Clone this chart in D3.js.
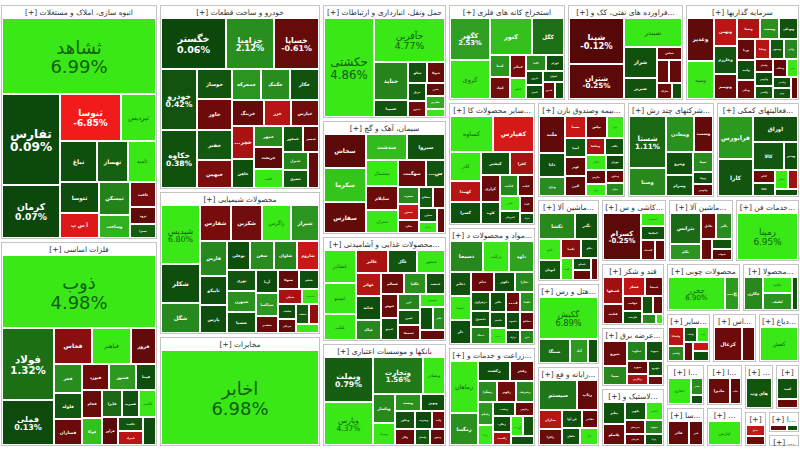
<!DOCTYPE html>
<html>
<head>
<meta charset="utf-8">
<script src="https://cdn.jsdelivr.net/npm/d3@7"></script>
<style>
  body { margin: 0; background: #fff; }
  svg { display: block; font-family: "DejaVu Sans", sans-serif; }
</style>
</head>
<body>
<svg id="map" width="800" height="450"></svg>
<script>
// sector (industry) groups of the market map
const sectorNames = [
  "انبوه سازی، املاک و مستغلات",
  "فلزات اساسی",
  "خودرو و ساخت قطعات",
  "محصولات شیمیایی",
  "مخابرات",
  "حمل ونقل، انبارداری و ارتباطات",
  "سیمان، آهک و گچ",
  "محصولات غذایی و آشامیدنی به جز قند و شکر",
  "بانکها و موسسات اعتباری",
  "استخراج کانه های فلزی",
  "فراورده های نفتی، کک و سوخت هسته ای",
  "سرمایه گذاریها",
  "سایر محصولات کانی غیرفلزی",
  "مواد و محصولات دارویی",
  "زراعت و خدمات وابسته",
  "بیمه وصندوق بازنشستگی به جز تامین اجتماعی",
  "شرکتهای چند رشته ای صنعتی",
  "فعالیتهای کمکی به نهادهای مالی واسط",
  "ماشین آلات و تجهیزات",
  "هتل و رستوران",
  "رایانه و فعالیتهای وابسته به آن",
  "کاشی و سرامیک",
  "ماشین آلات و دستگاههای برقی",
  "خدمات فنی و مهندسی",
  "قند و شکر",
  "عرضه برق، گاز، بخار و آب گرم",
  "لاستیک و پلاستیک",
  "محصولات چوبی",
  "محصولات کاغذی",
  "سایر واسطه گریهای مالی",
  "استخراج ذغال سنگ",
  "دباغی، پرداخت چرم و ساخت انواع پاپوش",
  "استخراج نفت گاز و خدمات جنبی جز اکتشاف",
  "ساخت محصولات فلزی",
  "انتشار، چاپ و تکثیر",
  "ساخت دستگاهها و وسایل ارتباطی",
  "اطلاعات و ارتباطات",
  "فعالیت های هنری، سرگرمی و خلاقانه",
  "منسوجات",
  "استخراج سایر معادن",
  "ساخت ابزار پزشکی، اپتیکی و اندازه گیری"
];

// symbols per sector
const stockNames = [
  ["ثشاهد","تفارس","ثنوسا","کرمان","ثباغ","ثپردیس","ثهساز","ثامید","ثتوسا","آ س پ","ثمسکن","وساخت","ثاخت","ثرود","ثعمرا"],
  ["ذوب","فولاد","فملی","فخاس","فباهنر","فروز","فجر","فلوله","فسازان","فنورد","فسوز","فپنتا","فجام","فوکا","فسرب","فگستر","فرآور","فکمند","فمراد","فنوال","فایرا"],
  ["خگستر","خزامیا","خساپا","خودرو","خکاوه","خوساز","خاور","خفنر","خبهمن","خمحرکه","خکمک","خکار","خرینگ","خزر","خپارس","خچرخش","خاهن","خمهر","خریخت","خلنت","خمحور","خنصیر","خدیزل","خشرق","ختور"],
  ["شپدیس","شکلر","شگل","شفارس","شکربن","زاگرس","شیراز","فارس","شاروم","نوری","شبهرن","شسپا","تاپیکو","آریا","شپاکسا","بوعلی","شفن","پارس","شاوان","شغدیر","شتوکا","شجم","شپلی","شصدف","شلعاب","شرنگی","شنفت","شخارک","شاملا"],
  ["اخابر"],
  ["حکشتی","حآفرین","حتاید","حسینا","حبالو","حتوکا","حریل","حپترو","حخزر","حفارس","حپارسا"],
  ["سخاش","سکرما","سفارس","سدشت","سبزوا","سشمال","سایلام","ستران","سهگمت","سصوفی","سغرب","سخزر","سکرد","سفانو","سباقر","سمازن","سیدکو","سنیر"],
  ["غشاذر","غمینو","غکب","غالبر","غگل","غبشهر","غهاذر","غدانه","غپاک","غسالم","غگلپا","غدشت","غنوش","غپینو","غزر","غچین","غشصفا","غبهنوش","غمارگ","غاذر","غگرجی"],
  ["وبملت","وپارس","وتجارت","وبصادر","وپاسار","وسینا","وپست","ونوین","وخاور","وکار","وسرمد","وآیند","وانصار","وشهر"],
  ["کگهر","کروی","کنور","کگل","کدما","کچاد","کمنگنز","کبافق","کاما","کهرام","کپرور","کمس","کجهان","کشرق","کخاک"],
  ["شپنا","شتران","شبندر","شراز","شبریز","شپاس","شدوص","شرانل","شاراک","شگویا"],
  ["وغدیر","وسپه","وبهمن","وخارزم","وتوسم","وسنا","وصنعت","وبوعلی","ورنا","وامید","وملی","وساپا","وسپهر","واتی","ولتجار","وآتوس","وگستر","وسکاب","ونیرو","وکغدیر","وثنو","ونیکی"],
  ["کساوه","کفپارس","کاذر","کهمدا","کسرا","کپشیر","کفرا","کرازی","کلوند","کثابت","کباده","کخزر","کمرجان","کایتا","کتوکا"],
  ["دسبحا","برکت","داوه","دجابر","دسینا","دلر","ددام","دکوثر","دفارا","دزهراوی","دکپسول","دتماد","دالبر","دشیمی","دلقما","دکیمی","دپارس","داسوه","دسانکو","درازک","دابور"],
  ["زماهان","زمگسا","زکشت","زفجر","زشگزا","زکوثر","زشریف","زقیام","زبینا","زدشت","زپارس","زملارد","زگلدشت","زمهارت","زنگان","زبرکت"],
  ["ملت","ودی","بسما","بپاس","دانا","بنو","آسیا","کوثر","البرز","وحافظ","بکاب","اتکای","بتهران","بپارس","میهن","وتعاون","بنیان"],
  ["شستا","وصنا","ومعادن","وسمت","وپترو","وسرام","سیتا","وتوکا","وکبهمن"],
  ["فرابورس","کارا","اوراق","کالا","ومدیر","کتام","تکالا","اطلس","حپ","مداد"],
  ["تکشا","تگدر","تکنو","لبوتان","تکمبا","تپکو","تکیمیا","تاصیکو","تجهیز","تمحرکه"],
  ["گکیش","سمگا","آباد","گوهران"],
  ["سیستم","رتاپ","مداران","رافزا","فن آوا","مفاخر","ماهان","اپال"],
  ["کسرام","کسعدی","کحافظ","کصدف","کمینا"],
  ["بترانس","بکام","بکابل","بالبر","بموتو","بنیرو","بشهاب"],
  ["رمپنا"],
  ["قصفها","قثابت","قنیشا","قشکر","قهکمت","قلرست","قشرین","قمرو","قپیرا","قزوین"],
  ["بتیرو","بمپنا","دماوند","بپیوند","بجهرم","بزاگرس","بکهنوج","بگیلان"],
  ["پتایر","پلاسکو","پکویر","پاکشو","پدرخش","پکرمان","پسهند","پارتا"],
  ["چخزر","چفیبر"],
  ["چکارن","چکاوه","لطیف","چافست"],
  ["ولساپا","ولصنم","ولملت","ولغدر","ولکار","ولبهمن","ولتوسم"],
  ["کزغال","کطبس"],
  ["کفش"],
  ["حفاری","نفتیر","حگهر"],
  ["فاذر","فنر"],
  ["مادیرا","چاپ"],
  ["لپارس"],
  ["های وب"],
  ["کمند","رسام"],
  ["نساج","نبروج"],
  ["کباختر","کاسپین"],
  ["دتجهیز"]
];

// market value of each symbol (thousand billion rials, read from tile areas)
const stockCaps = [
  [12.8,5.8,3.2,3.4,1.7,1.8,1.4,1.3,1.3,1.1,1.1,0.8,0.7,0.5,0.4],
  [12.5,4.2,2.6,1.5,1.5,1.0,0.9,0.8,0.8,0.8,0.8,0.6,0.6,0.6,0.5,0.5,0.5,0.4,0.4,0.4,0.6],
  [3.7,2.75,2.6,2.45,2.35,1.2,1.2,1.2,1.1,1.0,1.0,1.0,0.9,0.8,0.8,0.8,0.7,0.7,0.7,0.6,0.6,0.5,0.5,0.5,0.45],
  [2.65,1.75,1.35,1.3,1.3,1.2,1.15,1.1,0.75,0.7,0.7,0.7,0.9,0.6,0.6,0.8,0.8,0.9,0.8,0.45,0.45,0.45,0.4,0.3,0.3,0.3,0.3,0.25,0.25],
  [18.0],
  [6.0,3.8,1.5,0.7,0.5,0.45,0.4,0.35,0.3,0.3,0.2],
  [1.7,1.7,1.6,1.3,1.2,1.0,0.9,0.9,0.9,0.6,0.45,0.4,0.35,0.35,0.3,0.3,0.25,0.25],
  [1.3,1.2,1.0,0.9,0.8,0.8,0.7,0.7,0.6,0.6,0.55,0.5,0.5,0.45,0.45,0.4,0.4,0.4,0.35,0.35,0.3],
  [2.7,2.6,2.3,1.0,0.8,0.6,0.55,0.5,0.45,0.4,0.35,0.3,0.3,0.3],
  [2.1,1.95,1.9,1.5,0.55,0.55,0.45,0.4,0.4,0.35,0.3,0.3,0.3,0.25,0.2],
  [3.1,2.4,2.1,1.3,0.85,0.4,0.35,0.35,0.3,0.2],
  [1.5,1.3,0.8,0.8,0.7,0.6,0.5,0.5,0.45,0.45,0.4,0.4,0.35,0.35,0.3,0.3,0.3,0.3,0.25,0.25,0.25,0.2],
  [1.9,1.8,1.1,0.8,0.8,0.8,0.7,0.6,0.5,0.45,0.4,0.35,0.3,0.3,0.2],
  [1.25,1.0,1.0,0.6,0.6,0.6,0.55,0.5,0.45,0.45,0.4,0.4,0.4,0.35,0.35,0.3,0.3,0.3,0.3,0.25,0.25],
  [1.8,1.1,0.8,0.6,0.5,0.5,0.5,0.45,0.4,0.4,0.35,0.35,0.3,0.3,0.3,0.25],
  [1.2,0.6,0.6,0.6,0.8,0.5,0.5,0.5,0.5,0.4,0.4,0.4,0.35,0.35,0.3,0.3,0.3],
  [2.4,1.3,1.3,0.9,0.8,0.7,0.5,0.3,0.3],
  [1.9,1.6,1.5,1.1,0.5,0.4,0.35,0.3,0.25,0.2],
  [1.3,0.8,0.6,0.6,0.5,0.4,0.35,0.3,0.25,0.2],
  [3.3,1.0,0.6,0.3],
  [1.5,0.8,0.6,0.5,0.5,0.4,0.4,0.4],
  [2.6,0.5,0.5,0.4,0.3],
  [1.4,0.7,0.6,0.6,0.35,0.3,0.3],
  [4.2],
  [0.8,0.6,0.5,0.6,0.4,0.35,0.3,0.25,0.2,0.1],
  [0.9,0.7,0.6,0.5,0.4,0.35,0.3,0.2],
  [0.7,0.7,0.6,0.45,0.4,0.35,0.35,0.3],
  [3.0,0.75],
  [1.0,0.8,0.8,0.3],
  [0.5,0.4,0.35,0.3,0.3,0.25,0.25],
  [1.6,0.7],
  [2.2],
  [1.1,0.4,0.2],
  [1.0,0.65],
  [1.05,0.55],
  [1.55],
  [1.45],
  [0.85,0.35],
  [0.5,0.4],
  [0.45,0.3],
  [0.45]
];

// daily change, percent
const stockChanges = [
  [6.99,0.09,-6.85,0.07,0.31,4.62,0.85,5.10,0.22,-4.30,1.80,2.90,-0.95,-0.40,0.75],
  [4.98,1.32,0.13,-1.60,5.20,-0.50,2.10,0.60,-0.70,-0.85,2.40,0.30,-0.60,3.20,0.40,4.10,-0.30,0.50,-3.10,0.20,1.10],
  [0.06,2.12,-0.61,0.42,0.38,0.50,-0.80,0.60,-1.20,2.30,2.10,0.40,-0.50,-3.00,-0.90,-2.60,0.30,2.00,-0.30,5.00,0.50,-0.40,1.90,0.70,-0.60],
  [6.80,0.30,2.00,-1.10,-0.90,5.80,2.30,2.00,-3.60,0.50,2.20,0.40,0.30,0.20,2.40,0.30,2.10,0.30,1.90,-0.70,-0.50,0.30,-2.50,5.20,0.20,-0.40,0.60,-1.80,4.80],
  [6.98],
  [4.86,4.77,1.90,0.50,0.40,-0.60,0.30,-0.90,-0.50,2.80,5.00],
  [-0.30,3.30,-0.50,3.10,0.40,5.20,-0.80,4.50,-0.70,0.50,2.00,-3.50,-0.90,0.60,-0.40,0.20,5.00,-0.50],
  [5.10,4.90,5.30,-2.60,0.50,4.40,-3.00,0.30,2.00,-0.80,2.20,0.40,-0.60,0.30,1.90,0.50,-0.70,5.00,0.30,2.10,-0.50],
  [0.79,4.37,1.56,4.50,2.00,5.00,2.20,0.30,0.40,-0.60,0.20,-0.90,0.50,-0.40],
  [2.53,4.97,3.20,1.35,2.30,-0.90,-1.00,5.00,2.00,0.30,0.20,0.40,0.50,-0.70,0.30],
  [-0.12,-0.25,5.60,0.35,0.40,-0.60,-0.70,-0.50,-0.80,0.30],
  [-0.42,4.60,-3.20,0.50,-0.70,-2.80,2.20,0.40,-0.50,0.30,-0.90,-3.00,0.60,2.00,-0.60,0.20,0.50,-0.30,4.80,0.30,0.40,-0.40],
  [5.60,-4.10,5.00,-3.00,0.35,0.40,-2.40,-0.70,0.30,2.00,-0.60,4.50,0.30,-0.50,0.40],
  [2.00,5.10,2.60,0.40,4.90,0.30,-0.60,0.30,2.00,0.50,0.40,1.80,0.30,-0.80,2.20,0.40,5.00,0.20,-0.50,0.30,2.00],
  [5.00,2.20,0.30,-0.40,2.10,-0.90,2.00,2.40,5.10,0.40,-0.60,0.30,-2.50,4.50,0.50,0.30],
  [-0.45,2.10,-3.60,-0.80,0.30,5.00,0.60,-0.40,-0.30,-2.50,0.40,5.10,0.20,-0.50,4.80,-0.60,2.00],
  [1.11,2.00,2.20,-0.50,0.40,0.60,2.10,0.30,-0.40],
  [2.40,0.50,0.40,0.60,0.30,-0.80,0.40,5.00,-2.20,0.30],
  [2.00,0.40,5.00,0.50,-1.50,0.30,4.80,0.30,-0.60,-0.50],
  [6.89,1.30,2.40,0.40],
  [1.50,-0.50,-3.00,-0.70,0.30,-0.40,0.40,5.00],
  [-0.25,5.00,0.40,-0.60,-0.40],
  [1.20,2.30,-0.80,2.10,-0.60,0.40,-0.30],
  [6.95],
  [-2.20,-1.00,-0.60,-3.40,-0.80,0.30,0.40,-0.50,2.00,4.50],
  [-0.70,2.00,1.80,0.40,-0.50,-2.50,0.40,-0.80],
  [0.40,-0.70,0.50,5.00,-0.60,-0.40,2.00,0.30],
  [6.90,2.40],
  [2.00,4.00,2.30,0.40],
  [-3.00,2.00,0.40,4.60,-0.70,-3.50,0.30],
  [-0.80,-0.40],
  [5.50],
  [5.00,2.10,0.30],
  [-0.60,-0.40],
  [-0.70,-0.30],
  [5.40],
  [0.50],
  [0.40,-0.60],
  [-3.50,-0.80],
  [-0.60,0.30],
  [-3.20]
];

const width = 798, height = 441;

const color = d3.scaleLinear()
  .domain([-5, -2.5, -0.001, 0, 1.2, 2.5, 4])
  .range(["#f21b1b", "#a81212", "#520808", "#0b460b", "#1b6a15", "#2e9d22", "#3ae817"])
  .clamp(true);

const data = {
  name: "بازار",
  children: sectorNames.map((s, i) => ({
    name: s,
    children: stockNames[i].map((n, j) => ({ name: n, cap: stockCaps[i][j], change: stockChanges[i][j] }))
  }))
};

const root = d3.hierarchy(data)
  .sum(d => d.cap || 0)
  .sort((a, b) => b.value - a.value);

d3.treemap()
  .tile(d3.treemapSquarify.ratio(1))
  .size([width, height])
  .paddingInner(d => d.depth === 0 ? 3 : 2)
  .paddingOuter(d => d.depth === 1 ? 2 : 0)
  .paddingTop(d => d.depth === 1 ? 14 : 0)
  .round(true)(root);

const svg = d3.select("#map");
const g = svg.append("g").attr("transform", "translate(1,5)");

// sector frames + headers
const sector = g.selectAll("g.sector")
  .data(root.children)
  .join("g")
  .attr("class", "sector");

sector.append("rect")
  .attr("x", d => d.x0 + 0.5)
  .attr("y", d => d.y0 + 0.5)
  .attr("width", d => Math.max(0, d.x1 - d.x0 - 1))
  .attr("height", d => Math.max(0, d.y1 - d.y0 - 1))
  .attr("fill", "#fff")
  .attr("stroke", "#c4c4c4");

sector.append("text")
  .attr("x", d => (d.x0 + d.x1) / 2)
  .attr("y", d => d.y0 + 10)
  .attr("text-anchor", "middle")
  .attr("direction", "rtl")
  .attr("fill", "#333")
  .style("font-size", "7.5px")
  .each(function(d) {
    const t = d3.select(this);
    const w = d.x1 - d.x0 - 6;
    const name = d.data.name;
    t.text(name + " [+]");
    let k = name.length;
    while (k > 0 && this.getComputedTextLength() > w) {
      k--;
      t.text("..." + name.slice(0, k) + " [+]");
    }
    if (this.getComputedTextLength() > w) t.text("[+]");
  });

// stock tiles
const leaf = g.selectAll("g.leaf")
  .data(root.leaves())
  .join("g")
  .attr("class", "leaf");

leaf.append("rect")
  .attr("x", d => d.x0)
  .attr("y", d => d.y0)
  .attr("width", d => Math.max(0, d.x1 - d.x0))
  .attr("height", d => Math.max(0, d.y1 - d.y0))
  .attr("fill", d => color(d.data.change));

leaf.each(function(d) {
  const w = d.x1 - d.x0, h = d.y1 - d.y0;
  if (w < 9 || h < 9) return;
  const sel = d3.select(this);
  const lime = d.data.change >= 3.5;
  const fill = lime ? "#11600f" : "#fff";
  const weight = lime ? "normal" : "bold";
  const cx = (d.x0 + d.x1) / 2, cy = (d.y0 + d.y1) / 2;
  let fs = Math.min(18, Math.sqrt(w * h) / 5.8);

  const label = sel.append("text")
    .attr("x", cx)
    .attr("text-anchor", "middle")
    .attr("direction", "rtl")
    .attr("fill", fill)
    .attr("font-weight", weight)
    .style("font-size", fs + "px")
    .text(d.data.name);

  let len = label.node().getComputedTextLength();
  if (len > w - 3) {
    fs = fs * (w - 3) / len;
    if (fs < 5.5) {
      fs = 5.5;
      label.style("font-size", fs + "px");
      const s = d.data.name;
      let k = s.length;
      do {
        k--;
        label.text(s.slice(0, k) + "...");
      } while (k > 1 && label.node().getComputedTextLength() > w - 2);
      if (label.node().getComputedTextLength() > w - 1) { label.remove(); return; }
    } else {
      label.style("font-size", fs + "px");
    }
  }
  fs = Math.min(fs, h * 0.8);
  label.style("font-size", fs + "px");

  if (w * h > 1500 && h >= 28) {
    label.attr("y", cy - fs * 0.12);
    const pct = sel.append("text")
      .attr("x", cx)
      .attr("y", cy + fs * 0.95)
      .attr("text-anchor", "middle")
      .attr("fill", fill)
      .attr("font-weight", weight)
      .style("font-size", fs + "px")
      .text(d.data.change.toFixed(2) + "%");
    const pl = pct.node().getComputedTextLength();
    if (pl > w - 3) pct.style("font-size", (fs * (w - 3) / pl) + "px");
  } else {
    label.attr("y", cy + fs * 0.36);
  }
});
</script>
</body>
</html>
